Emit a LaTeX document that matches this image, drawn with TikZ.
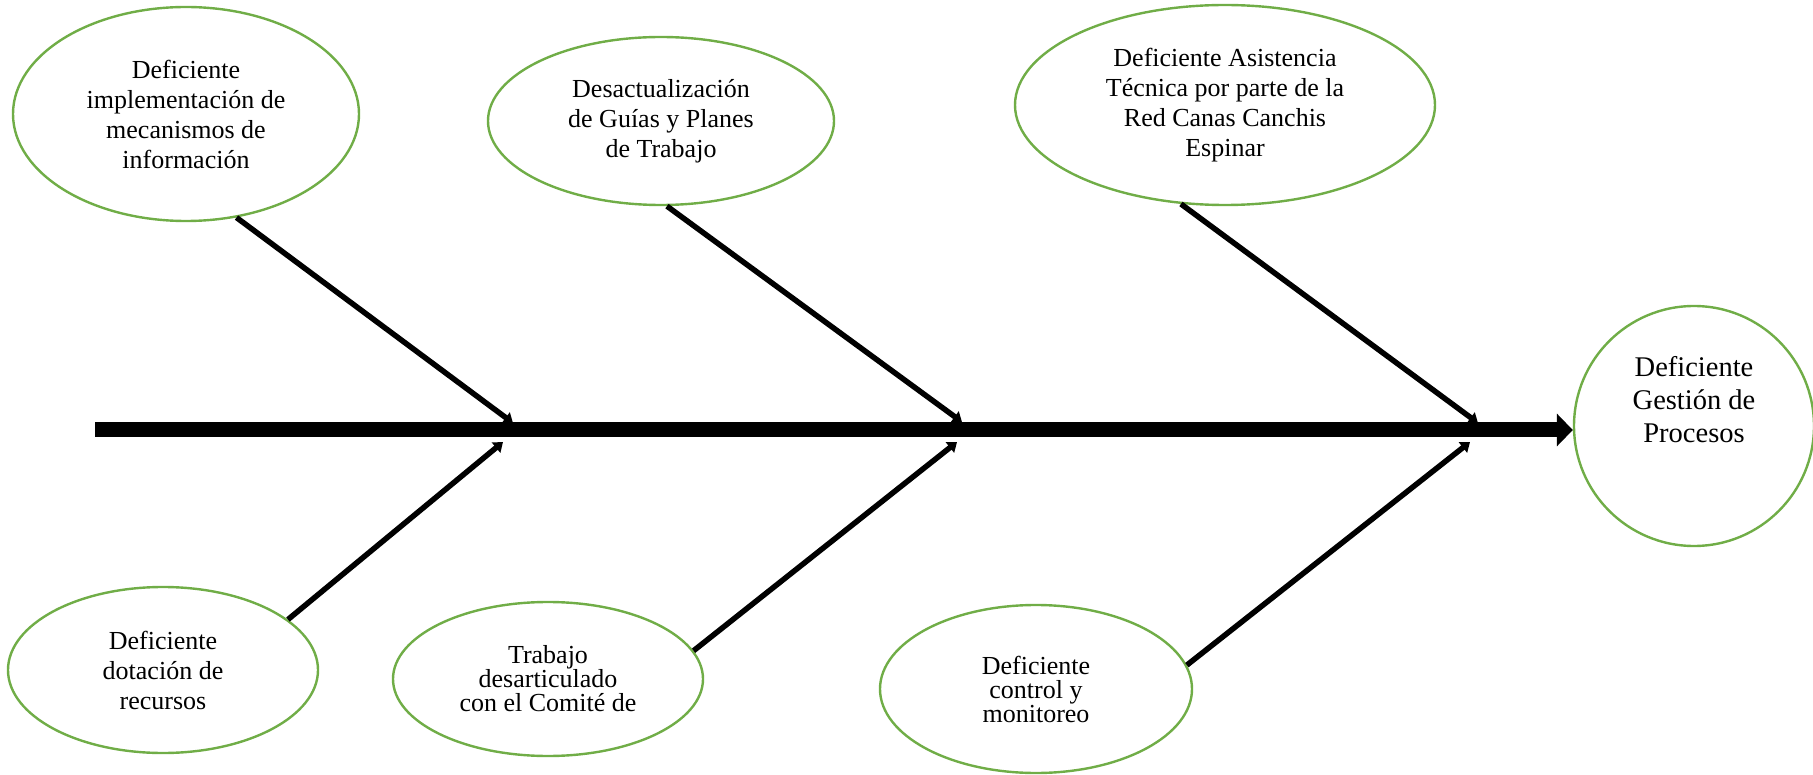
\documentclass[tikz,border=0pt]{standalone}
\usepackage{fontspec}
\setmainfont{Liberation Serif}
\usetikzlibrary{shapes.geometric,arrows.meta}
\definecolor{causegreen}{HTML}{70AD47}
\begin{document}
\begin{tikzpicture}[x=1pt,y=-1pt,
  cause/.style={ellipse, draw=causegreen, line width=2.4pt, inner sep=0pt,
    align=center, font=\fontsize{26}{30}\selectfont},
  tightlines/.style={font=\fontsize{26}{24}\selectfont},
  effect/.style={circle, draw=causegreen, line width=2.4pt, minimum size=240pt, inner sep=0pt},
  effecttext/.style={align=center, inner sep=0pt, font=\fontsize{28.5}{33}\selectfont},
  spine/.style={line width=15pt, -{Triangle[length=16pt,width=32pt]}},
  bone/.style={line width=5.5pt, -{Triangle[length=9pt,width=13pt]}}]
\useasboundingbox (0,0) rectangle (1813,775);

% causes above the spine
\node[cause, minimum width=346pt, minimum height=214pt] (c1) at (186,114)
  {Deficiente\\implementación de\\mecanismos de\\información};
\node[cause, minimum width=346pt, minimum height=168pt] (c2) at (661,121)
  {Desactualización\\de Guías y Planes\\de Trabajo};
\node[cause, minimum width=420pt, minimum height=200pt] (c3) at (1225,105)
  {Deficiente Asistencia\\Técnica por parte de la\\Red Canas Canchis\\Espinar};

% causes below the spine
\node[cause, minimum width=310pt, minimum height=166pt] (c4) at (163,670)
  {Deficiente\\dotación de\\recursos};
\node[cause, tightlines, minimum width=310pt, minimum height=154pt] (c5) at (548,679)
  {Trabajo\\desarticulado\\con el Comité de};
\node[cause, tightlines, minimum width=312pt, minimum height=168pt] (c6) at (1036,689)
  {Deficiente\\control y\\monitoreo};

% effect
\node[effect] (goal) at (1694,426) {};
\node[effecttext] (goaltxt) at ([yshift=26pt]goal.center)
  {Deficiente\\Gestión de\\Procesos};

% spine
\coordinate (tail) at (95,430);
\draw[spine] (tail) -- (tail -| goal.west);

% points where the bones meet the spine
\coordinate (u1) at (513,423);
\coordinate (u2) at (962,422);
\coordinate (u3) at (1478,423);
\coordinate (l1) at (503,442);
\coordinate (l2) at (957,442);
\coordinate (l3) at (1470,442);

% bones
\draw[bone] (c1.-64) -- (u1);
\draw[bone] (c2.-86) -- (u2);
\draw[bone] (c3.-114) -- (u3);
\draw[bone] (c4.22) -- (l1);
\draw[bone] (c5.11) -- (l2);
\draw[bone] (c6.9) -- (l3);
\end{tikzpicture}
\end{document}
